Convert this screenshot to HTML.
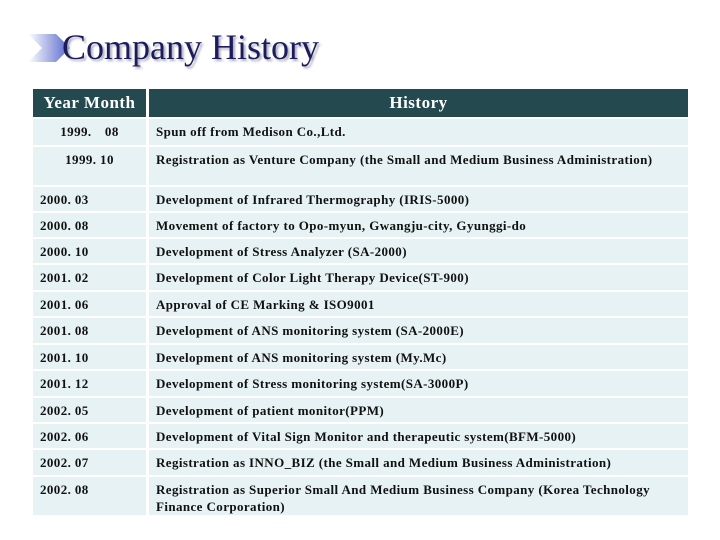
<!DOCTYPE html>
<html><head><meta charset="utf-8"><style>
body{margin:0;width:720px;height:540px;background:#fff;position:relative;overflow:hidden;font-family:"Liberation Serif",serif}
.c{position:absolute;background:#e6f2f4;font-weight:bold;font-size:13px;letter-spacing:0.4px;color:#111;box-sizing:border-box;padding-top:4px;line-height:17px}
.h{position:absolute;background:#244a50;color:#fff;font-weight:bold;font-size:17px;letter-spacing:0.5px;box-sizing:border-box;padding-top:4px}
</style></head><body>
<svg style="position:absolute;left:28px;top:34px" width="44" height="28">
<defs><linearGradient id="g" x1="0" x2="1"><stop offset="0" stop-color="#fff"/><stop offset="1" stop-color="#5566cc"/></linearGradient></defs>
<polygon points="0,0 28,0 42,14 28,28 0,28 14,14" fill="url(#g)"/></svg>
<div style="position:absolute;left:62px;top:26px;font-size:36px;color:#1c1c5c;text-shadow:2px 2px 2px #aab">Company History</div>
<div class="h" style="left:33px;top:89px;width:113px;height:28px;text-align:center">Year Month</div>
<div class="h" style="left:149px;top:89px;width:539px;height:28px;text-align:center">History</div>
<div id="rows"></div>
<script>
const dates=["1999.　08","1999. 10","2000. 03","2000. 08","2000. 10","2001. 02","2001. 06","2001. 08","2001. 10","2001. 12","2002. 05","2002. 06","2002. 07","2002. 08"];
const events=["Spun off from Medison Co.,Ltd.","Registration as Venture Company (the Small and Medium Business Administration)","Development of Infrared Thermography (IRIS-5000)","Movement of factory to Opo-myun, Gwangju-city, Gyunggi-do","Development of Stress Analyzer (SA-2000)","Development of Color Light Therapy Device(ST-900)","Approval of CE Marking &amp; ISO9001","Development of ANS monitoring system (SA-2000E)","Development of ANS monitoring system (My.Mc)","Development of Stress monitoring system(SA-3000P)","Development of patient monitor(PPM)","Development of Vital Sign Monitor and therapeutic system(BFM-5000)","Registration as INNO_BIZ (the Small and Medium Business Administration)","Registration as Superior Small And Medium Business Company (Korea Technology Finance Corporation)"];
const tops=[119,147,187,213,239,265,292,318,345,371,398,424,450,477];
const bots=[145,185,211,237,263,290,316,343,369,396,422,448,475,515];
const root=document.getElementById('rows');
for(let i=0;i<dates.length;i++){
 const a=document.createElement('div');a.className='c';
 
 
 a.style.cssText=`left:33px;top:${tops[i]}px;width:113px;height:${bots[i]-tops[i]}px;`+(i<2?'text-align:center':'padding-left:7px');
 a.innerHTML=dates[i];root.appendChild(a);
 const b=document.createElement('div');b.className='c';
 
 
 b.style.cssText=`left:149px;top:${tops[i]}px;width:539px;height:${bots[i]-tops[i]}px;padding-left:7px;padding-right:20px`;
 b.innerHTML=events[i];root.appendChild(b);
}
</script>
</body></html>
